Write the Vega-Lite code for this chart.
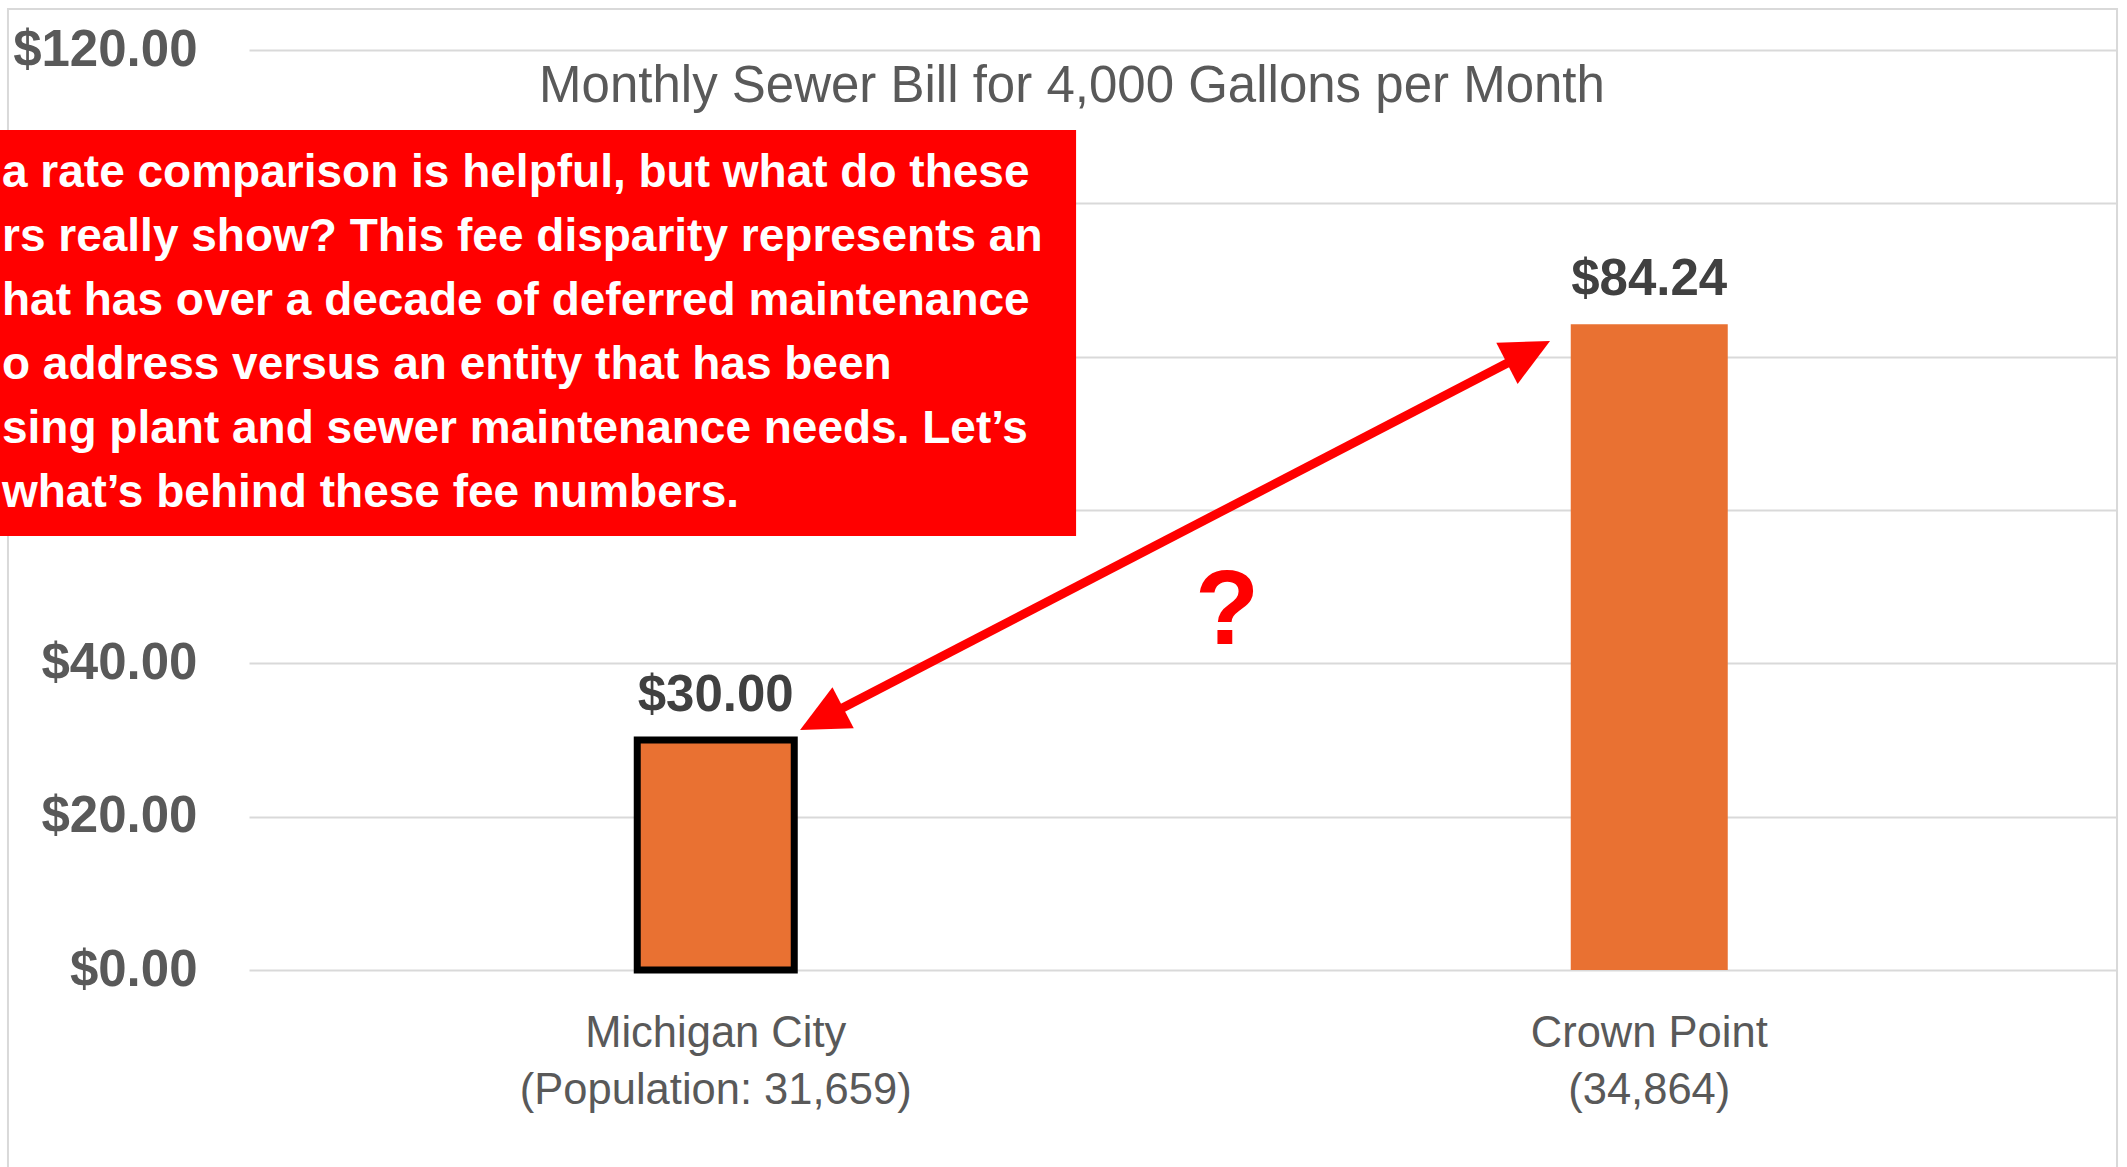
{
  "$schema": "https://vega.github.io/schema/vega-lite/v6.json",
  "width": 1867,
  "height": 920,
  "autosize": {"type": "none"},
  "padding": {"left": 249, "top": 50, "right": 11, "bottom": 197},
  "background": "white",
  "config": {"view": {"stroke": null}, "font": "Liberation Sans"},
  "layer": [
    {
      "data": {"values": [
        {"city": "Michigan City", "label": "Michigan City\n(Population: 31,659)", "bill": 30.00},
        {"city": "Crown Point", "label": "Crown Point\n(34,864)", "bill": 84.24}
      ]},
      "layer": [
        {
          "mark": {"type": "bar", "width": 157, "color": "#E97132", "stroke": "#000000"},
          "encoding": {
            "x": {"field": "label", "type": "nominal", "sort": null,
              "scale": {"paddingInner": 0, "paddingOuter": 0},
              "axis": {"title": null, "labelExpr": "split(datum.label, '\\n')", "labelAngle": 0, "labelAlign": "center",
                "labelFont": "Liberation Sans", "labelFontSize": 43.5, "labelColor": "#595959", "labelLineHeight": 57,
                "labelBaseline": "middle", "labelPadding": 63, "labelLimit": 1000, "labelOverlap": false,
                "ticks": false, "tickSize": 0, "domain": false, "grid": false}},
            "y": {"field": "bill", "type": "quantitative",
              "scale": {"domain": [0, 120], "nice": false},
              "axis": {"title": null, "format": "$,.2f", "values": [0, 20, 40, 60, 80, 100, 120],
                "labelExpr": "datum.value >= 60 && datum.value <= 100 ? '' : datum.label",
                "labelFont": "Liberation Sans", "labelFontSize": 51, "labelFontWeight": "bold", "labelColor": "#595959",
                "labelPadding": 52, "labelLimit": 1000, "labelOverlap": false, "ticks": false, "tickSize": 0, "domain": false,
                "gridColor": "#d9d9d9", "gridWidth": 2}},
            "strokeWidth": {"condition": {"test": "datum.city === 'Michigan City'", "value": 7}, "value": 0}
          }
        },
        {
          "mark": {"type": "text", "dy": -44, "baseline": "middle", "align": "center", "font": "Liberation Sans", "fontSize": 51, "fontWeight": "bold", "color": "#404040"},
          "encoding": {
            "x": {"field": "label", "type": "nominal", "sort": null},
            "y": {"field": "bill", "type": "quantitative", "scale": {"domain": [0, 120], "nice": false}},
            "text": {"field": "bill", "type": "quantitative", "format": "$.2f"}
          }
        }
      ]
    },
    {
      "layer": [
        {
          "data": {"values": [{"x0": -0.2582, "x1": 2.0011, "y0": 125.34, "y1": -30}]},
          "mark": {"type": "rect", "fillOpacity": 0, "stroke": "#d9d9d9", "strokeWidth": 2},
          "encoding": {
            "x": {"field": "x0", "type": "quantitative", "scale": {"domain": [0, 2], "nice": false, "zero": false}, "axis": null},
            "x2": {"field": "x1"},
            "y": {"field": "y0", "type": "quantitative", "scale": {"domain": [0, 120], "nice": false}},
            "y2": {"field": "y1"}
          }
        },
        {
          "data": {"values": [{"x0": 0.6316, "y0": 33.91, "x1": 1.3523, "y1": 79.43}]},
          "mark": {"type": "rule", "color": "#FF0000", "strokeWidth": 9},
          "encoding": {
            "x": {"field": "x0", "type": "quantitative", "scale": {"domain": [0, 2], "nice": false, "zero": false}, "axis": null},
            "x2": {"field": "x1"},
            "y": {"field": "y0", "type": "quantitative", "scale": {"domain": [0, 120], "nice": false}},
            "y2": {"field": "y1"}
          }
        },
        {
          "data": {"values": [{"end": "start", "x": 0.5903, "y": 31.30}, {"end": "end", "x": 1.3937, "y": 82.04}]},
          "mark": {"type": "point", "shape": "M0,0L-0.478,1L0.478,1Z", "filled": true, "color": "#FF0000", "opacity": 1, "size": 9409, "strokeWidth": 0},
          "encoding": {
            "x": {"field": "x", "type": "quantitative", "scale": {"domain": [0, 2], "nice": false, "zero": false}, "axis": null},
            "y": {"field": "y", "type": "quantitative", "scale": {"domain": [0, 120], "nice": false}},
            "angle": {"condition": {"test": "datum.end === 'start'", "value": 242.6}, "value": 62.6}
          }
        },
        {
          "data": {"values": [{"x": 1.0477, "y": 46.69, "t": "?"}]},
          "mark": {"type": "text", "baseline": "middle", "align": "center", "font": "Liberation Sans", "fontSize": 105, "fontWeight": "bold", "color": "#FF0000"},
          "encoding": {
            "x": {"field": "x", "type": "quantitative", "scale": {"domain": [0, 2], "nice": false, "zero": false}, "axis": null},
            "y": {"field": "y", "type": "quantitative", "scale": {"domain": [0, 120], "nice": false}},
            "text": {"field": "t"}
          }
        },
        {
          "data": {"values": [{"x0": -0.3, "x1": 0.886, "y0": 109.57, "y1": 56.6}]},
          "mark": {"type": "rect", "color": "#FF0000", "opacity": 1},
          "encoding": {
            "x": {"field": "x0", "type": "quantitative", "scale": {"domain": [0, 2], "nice": false, "zero": false}, "axis": null},
            "x2": {"field": "x1"},
            "y": {"field": "y0", "type": "quantitative", "scale": {"domain": [0, 120], "nice": false}},
            "y2": {"field": "y1"}
          }
        },
        {
          "data": {"values": [{"x": -0.2646, "y": 102.1, "note": "a rate comparison is helpful, but what do these\nrs really show? This fee disparity represents an\nhat has over a decade of deferred maintenance\no address versus an entity that has been\nsing plant and sewer maintenance needs. Let’s\nwhat’s behind these fee numbers."}]},
          "mark": {"type": "text", "align": "left", "baseline": "alphabetic", "lineBreak": "\n", "lineHeight": 64, "font": "Liberation Sans", "fontSize": 46, "fontWeight": "bold", "color": "#FFFFFF"},
          "encoding": {
            "x": {"field": "x", "type": "quantitative", "scale": {"domain": [0, 2], "nice": false, "zero": false}, "axis": null},
            "y": {"field": "y", "type": "quantitative", "scale": {"domain": [0, 120], "nice": false}},
            "text": {"field": "note"}
          }
        },
        {
          "data": {"values": [{"x": 0.8816, "y": 113.2, "t": "Monthly Sewer Bill for 4,000 Gallons per Month"}]},
          "mark": {"type": "text", "align": "center", "baseline": "alphabetic", "font": "Liberation Sans", "fontSize": 51, "color": "#595959"},
          "encoding": {
            "x": {"field": "x", "type": "quantitative", "scale": {"domain": [0, 2], "nice": false, "zero": false}, "axis": null},
            "y": {"field": "y", "type": "quantitative", "scale": {"domain": [0, 120], "nice": false}},
            "text": {"field": "t"}
          }
        }
      ]
    }
  ],
  "resolve": {"scale": {"x": "independent"}}
}
